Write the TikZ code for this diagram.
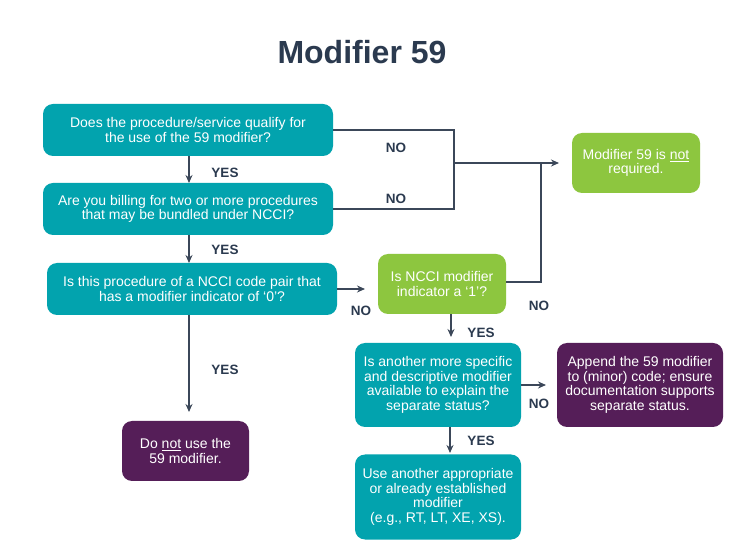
\documentclass[tikz,border=0pt]{standalone}
\usepackage{fontspec}
\setmainfont{Liberation Sans}
\usetikzlibrary{arrows.meta}
\definecolor{teal1}{HTML}{02A3AE}
\definecolor{green1}{HTML}{8DC63F}
\definecolor{purp1}{HTML}{551E58}
\definecolor{linec}{HTML}{3B4759}
\definecolor{titlec}{HTML}{2B3A4F}
\tikzset{
  box/.style={rounded corners=10pt, draw=none, align=center, text=white, inner sep=0pt,
    font=\fontsize{14}{14.5}\selectfont},
  tealbox/.style={box, fill=teal1},
  greenbox/.style={box, fill=green1},
  purpbox/.style={box, fill=purp1},
  conn/.style={draw=linec, line width=1.2pt},
  arr/.style={conn, -{Stealth[length=8pt,width=7pt]}},
  lbl/.style={text=titlec, font=\fontsize{13.5}{14}\selectfont\bfseries, inner sep=0pt}
}
\begin{document}
\begin{tikzpicture}[x=1pt,y=-1pt]
\path[use as bounding box, fill=white] (0,0) rectangle (737,553);
\node[text=titlec, font=\fontsize{32}{34}\selectfont\bfseries] (title) at (362,52) {Modifier 59};

\node[tealbox, minimum width=290pt, minimum height=52pt] (b1) at (188,130)
  {Does the procedure/service qualify for\\the use of the 59 modifier?};
\node[tealbox, minimum width=290pt, minimum height=52pt] (b2) at (188,209)
  {Are you billing for two or more procedures\\that may be bundled under NCCI?};
\node[tealbox, minimum width=290pt, minimum height=52pt] (b3) at (192,289)
  {Is this procedure of a NCCI code pair that\\has a modifier indicator of `0'?};
\node[greenbox, minimum width=128pt, minimum height=60pt] (g1) at (442,284)
  {Is NCCI modifier\\indicator a `1'?};
\node[greenbox, minimum width=128pt, minimum height=60pt] (g2) at (636,163)
  {Modifier 59 is \underline{not}\\required.};
\node[tealbox, minimum width=166pt, minimum height=84pt] (t4) at (438,385)
  {Is another more specific\\and descriptive modifier\\available to explain the\\separate status?};
\node[purpbox, minimum width=166pt, minimum height=84pt] (p2) at (640,385)
  {Append the 59 modifier\\to (minor) code; ensure\\documentation supports\\separate status.};
\node[tealbox, minimum width=166pt, minimum height=85pt] (t5) at (438,497)
  {Use another appropriate\\or already established\\modifier\\(e.g., RT, LT, XE, XS).};
\node[purpbox, minimum width=127pt, minimum height=60pt] (p1) at (185.5,451)
  {Do \underline{not} use the\\59 modifier.};

\coordinate (jL) at (454,163);
\coordinate (jR) at (541,163);
\coordinate (aG2) at (559,163);
\coordinate (aG1) at (365,289);
\coordinate (aP1) at (189,412);
\coordinate (aT4) at (451,337);
\coordinate (aP2) at (546,385);
\coordinate (aT5) at (450,453);
\coordinate (b1s) at (189,156);
\coordinate (b2n) at (189,183);
\coordinate (b2s) at (189,235);
\coordinate (b3n) at (189,263);
\coordinate (b3s) at (189,315);
\coordinate (g1s) at (451,314);
\coordinate (t4s) at (450,427);

\draw[conn] (b1.east) -| (jL) |- (b2.east);
\draw[conn] (g1.east |- 0,282) -| (jR);
\draw[arr] (jL) -- (aG2);
\draw[arr] (b1s) -- (b2n);
\draw[arr] (b2s) -- (b3n);
\draw[arr] (b3.east) -- (aG1);
\draw[arr] (b3s) -- (aP1);
\draw[arr] (g1s) -- (aT4);
\draw[arr] (t4.east) -- (aP2);
\draw[arr] (t4s) -- (aT5);

\node[lbl] (y1) at (225,173) {YES};
\node[lbl] (y2) at (225,250) {YES};
\node[lbl] (y3) at (225,370) {YES};
\node[lbl] (y4) at (481,333) {YES};
\node[lbl] (y5) at (481,441) {YES};
\node[lbl] (n1) at (396,148) {NO};
\node[lbl] (n2) at (396,199) {NO};
\node[lbl] (n3) at (361,311) {NO};
\node[lbl] (n4) at (539,306) {NO};
\node[lbl] (n5) at (539,404) {NO};
\end{tikzpicture}
\end{document}
